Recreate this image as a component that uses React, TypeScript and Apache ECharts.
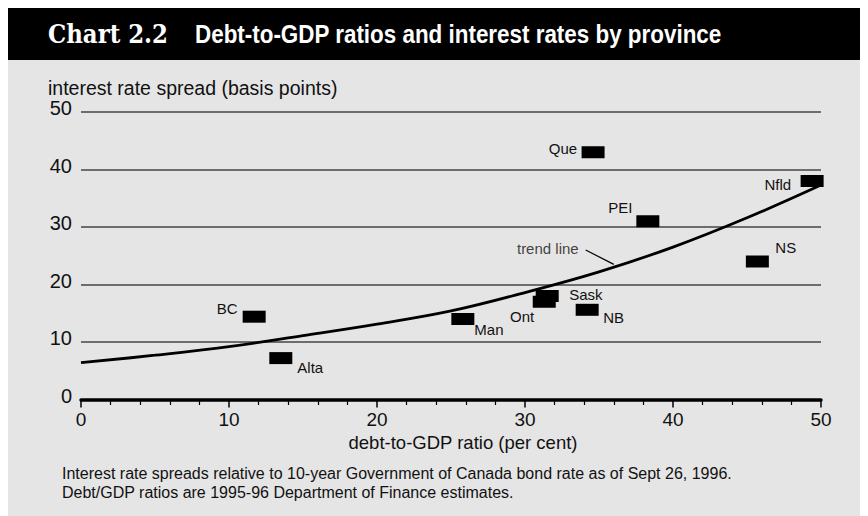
import React, { useEffect, useRef } from 'react';
import * as echarts from 'echarts';

// ---- data ----
const provinces = ['BC', 'Alta', 'Man', 'Ont', 'Sask', 'NB', 'Que', 'PEI', 'NS', 'Nfld'];
const debtToGdp = [11.7, 13.5, 25.8, 31.3, 31.5, 34.2, 34.6, 38.3, 45.7, 49.4];
const spreadBp = [14.4, 7.2, 14.0, 17.0, 18.0, 15.6, 43.0, 31.0, 24.0, 38.0];

const trendX = [0, 5, 10, 15, 20, 25, 30, 35, 40, 45, 50];
const trendY = [6.4, 7.7, 9.2, 11.1, 13.1, 15.4, 18.6, 22.2, 26.5, 31.6, 37.3];

const trendLabelText = 'trend line';
const trendLeaderX = [34.1, 36.0];
const trendLeaderY = [26.0, 23.5];

const xTicks = [0, 10, 20, 30, 40, 50];
const yTicks = [0, 10, 20, 30, 40, 50];

const titleNumber = 'Chart 2.2';
const titleText = 'Debt-to-GDP ratios and interest rates by province';
const yAxisTitle = 'interest rate spread (basis points)';
const xAxisTitle = 'debt-to-GDP ratio (per cent)';
const footnotes = [
  'Interest rate spreads relative to 10-year Government of Canada bond rate as of Sept 26, 1996.',
  'Debt/GDP ratios are 1995-96 Department of Finance estimates.',
];

// ---- label placement (styling, keyed by province): anchor offset from the marker centre ----
const labelPlacement: Record<string, { dx: number; dy: number; align: 'left' | 'right' }> = {
  BC: { dx: -16.5, dy: -8, align: 'right' },
  Alta: { dx: 16.5, dy: 9, align: 'left' },
  Man: { dx: 11.5, dy: 10, align: 'left' },
  Ont: { dx: -10, dy: 14.5, align: 'right' },
  Sask: { dx: 22, dy: -2, align: 'left' },
  NB: { dx: 16, dy: 8, align: 'left' },
  Que: { dx: -16, dy: -4, align: 'right' },
  PEI: { dx: -15.5, dy: -14, align: 'right' },
  NS: { dx: 18, dy: -14, align: 'left' },
  Nfld: { dx: -21, dy: 3, align: 'right' },
};
const markerW = 23;
const markerH = 12;

function measure(text: string, font: string): number {
  const c = document.createElement('canvas');
  const ctx = c.getContext('2d');
  if (!ctx) return 1;
  ctx.font = font;
  return ctx.measureText(text).width || 1;
}

export default function App() {
  const ref = useRef<HTMLDivElement>(null);

  useEffect(() => {
    if (!ref.current) return;
    const chart = echarts.init(ref.current, null, { renderer: 'svg' });

    const subFont = 'bold 26px "Liberation Sans"';
    const subScale = 527 / measure(titleText, subFont);
    const numFont = 'bold 26px "DejaVu Serif"';
    const numScale = 120 / measure(titleNumber, numFont);
    const sans = '"Liberation Sans", Arial, sans-serif';

    const scatterData = provinces.map((p, i) => {
      const lp = labelPlacement[p];
      return {
        name: p,
        value: [debtToGdp[i], spreadBp[i]],
        label: {
          position: [markerW / 2 + lp.dx, markerH / 2 + lp.dy],
          align: lp.align,
          verticalAlign: 'middle',
        },
      };
    });

    chart.setOption({
      animation: false,
      backgroundColor: '#e5e5e5',
      grid: { left: 73, right: 47, top: 104, bottom: 116.5, containLabel: false },
      xAxis: {
        type: 'value',
        min: xTicks[0],
        max: xTicks[xTicks.length - 1],
        interval: xTicks[1] - xTicks[0],
        name: xAxisTitle,
        nameLocation: 'middle',
        nameGap: 30,
        nameTextStyle: { fontFamily: sans, fontSize: 18.5, color: '#111', padding: [0, 0, 0, 24] },
        axisLine: { show: true, onZero: false, lineStyle: { color: '#000', width: 3.5 } },
        axisTick: { show: true, length: 8, lineStyle: { color: '#000', width: 1.5 } },
        minorTick: { show: true, splitNumber: 5, length: 5.5, lineStyle: { color: '#000', width: 1.2 } },
        axisLabel: { fontFamily: sans, fontSize: 19, color: '#111', margin: 10 },
        splitLine: { show: false },
      },
      yAxis: {
        type: 'value',
        min: yTicks[0],
        max: yTicks[yTicks.length - 1],
        interval: yTicks[1] - yTicks[0],
        axisLine: { show: false },
        axisTick: { show: false },
        axisLabel: {
          fontFamily: sans,
          fontSize: 20,
          color: '#111',
          margin: 9,
          verticalAlign: 'bottom',
          lineHeight: 8,
        },
        splitLine: { show: true, lineStyle: { color: '#444', width: 1.5 } },
      },
      graphic: [
        { type: 'rect', left: 0, top: 0, shape: { x: 0, y: 0, width: 860, height: 52 }, style: { fill: '#000' }, silent: true },
        {
          type: 'text', x: 40, y: 26, scaleX: numScale, scaleY: 1,
          style: { text: titleNumber, fill: '#fff', font: numFont, textAlign: 'left', textVerticalAlign: 'middle' },
        },
        {
          type: 'text', x: 187, y: 26, scaleX: subScale, scaleY: 1,
          style: { text: titleText, fill: '#fff', font: subFont, textAlign: 'left', textVerticalAlign: 'middle' },
        },
        {
          type: 'text', x: 40, y: 79.5,
          style: { text: yAxisTitle, fill: '#111', font: `19.5px ${sans}`, textAlign: 'left', textVerticalAlign: 'middle' },
        },
        {
          type: 'text', x: 54, y: 465,
          style: { text: footnotes[0], fill: '#111', font: `16px ${sans}`, textAlign: 'left', textVerticalAlign: 'middle' },
        },
        {
          type: 'text', x: 54, y: 484,
          style: { text: footnotes[1], fill: '#111', font: `16px ${sans}`, textAlign: 'left', textVerticalAlign: 'middle' },
        },
      ],
      series: [
        {
          type: 'line',
          data: trendX.map((x, i) => [x, trendY[i]]),
          smooth: 0.4,
          showSymbol: false,
          symbol: 'none',
          lineStyle: { color: '#000', width: 2.8 },
          silent: true,
          z: 2,
        },
        {
          type: 'line',
          data: trendLeaderX.map((x, i) => [x, trendLeaderY[i]]),
          showSymbol: false,
          symbol: 'none',
          lineStyle: { color: '#000', width: 1.2 },
          silent: true,
          z: 2,
        },
        {
          type: 'scatter',
          data: [{ name: trendLabelText, value: [trendLeaderX[0], trendLeaderY[0]] }],
          symbolSize: 1,
          itemStyle: { color: 'rgba(0,0,0,0)' },
          label: {
            show: true,
            formatter: '{b}',
            position: [0.5 - 7, 0.5 - 2],
            align: 'right',
            verticalAlign: 'middle',
            fontFamily: sans,
            fontSize: 15,
            color: '#111',
          },
          silent: true,
          z: 3,
        },
        {
          type: 'scatter',
          data: scatterData,
          symbol: 'rect',
          symbolSize: [markerW, markerH],
          itemStyle: { color: '#000', opacity: 1 },
          label: {
            show: true,
            formatter: '{b}',
            fontFamily: sans,
            fontSize: 15,
            color: '#111',
          },
          labelLayout: { hideOverlap: false },
          silent: true,
          z: 4,
        },
      ],
    });

    return () => chart.dispose();
  }, []);

  return <div ref={ref} style={{ width: 860, height: 508 }} />;
}
